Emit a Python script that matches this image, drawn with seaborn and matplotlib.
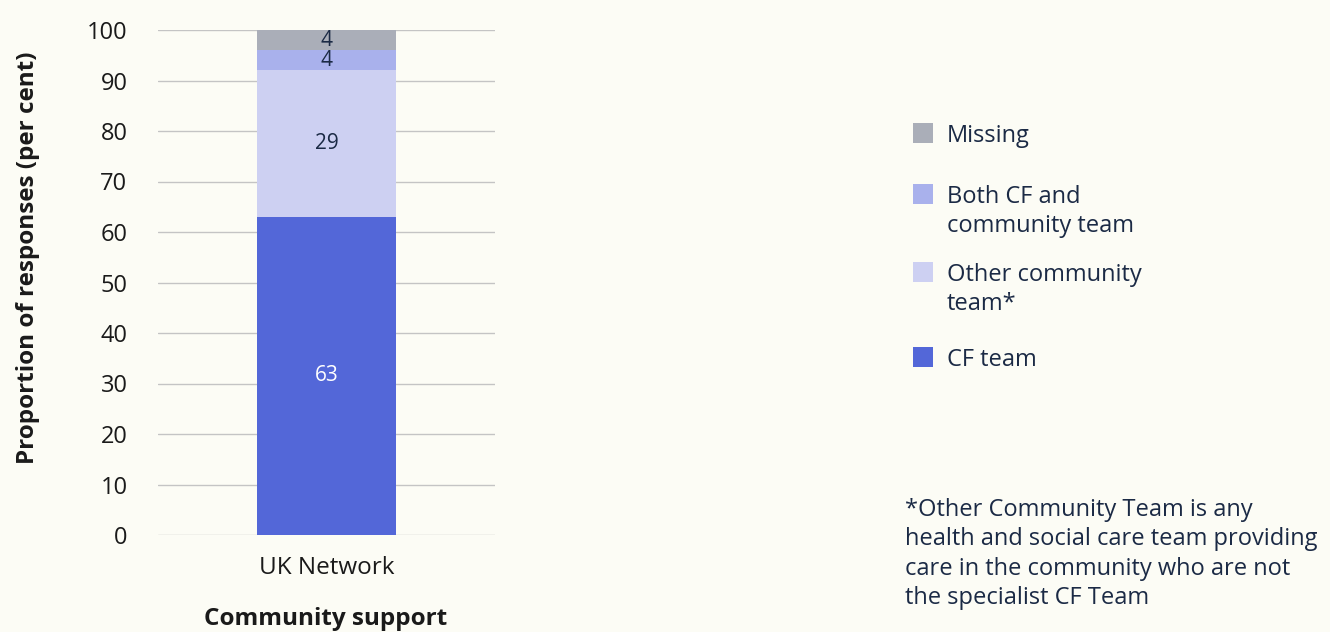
import matplotlib
matplotlib.use("Agg")
import matplotlib.pyplot as plt
from matplotlib.patches import Rectangle
import seaborn as sns
import pandas as pd

# data
group = ["UK Network"]
categories = ["CF team", "Other community team*", "Both CF and community team", "Missing"]
values = [63, 29, 4, 4]
legend_labels = ["Missing", "Both CF and\ncommunity team", "Other community\nteam*", "CF team"]
colors = {"CF team": "#5367d8", "Other community team*": "#cdd0f2",
          "Both CF and community team": "#a9b1ec", "Missing": "#aaaeb8"}
label_colors = ["white", "#1b2a45", "#1b2a45", "#1b2a45"]

bg = "#fcfcf5"
navy = "#1b2a45"

sns.set_theme(style="white")
plt.rcParams["font.family"] = ["Open Sans", "DejaVu Sans"]

fig = plt.figure(figsize=(13.3, 6.32), dpi=100, facecolor=bg)
ax = fig.add_axes([158 / 1330, 1 - 535 / 632, 337 / 1330, 505 / 632])
ax.set_facecolor(bg)

# stack by overlapping cumulative bars, tallest first
cum = pd.Series(values, index=categories).cumsum()
for cat in reversed(categories):
    df = pd.DataFrame({"group": group, "value": [cum[cat]]})
    sns.barplot(data=df, x="group", y="value", color=colors[cat], width=0.41,
                saturation=1, linewidth=0, ax=ax, zorder=3)

# value labels
bottom = 0
for cat, v, c in zip(categories, values, label_colors):
    ax.text(0, bottom + v / 2, str(v), ha="center", va="center", fontsize=15,
            color=c, zorder=4)
    bottom += v

ax.set_xlim(-0.5, 0.5)
ax.set_ylim(0, 100)
ax.set_yticks(range(0, 101, 10))
ax.yaxis.grid(True, color="#c4c4c4", linewidth=1)
ax.set_axisbelow(True)
for s in ax.spines.values():
    s.set_visible(False)
ax.tick_params(axis="y", length=0, pad=22, labelsize=17, labelcolor="#1a1a1a")
ax.tick_params(axis="x", length=0, pad=15, labelsize=17.5, labelcolor="#1a1a1a")
ax.set_xlabel("")
ax.set_ylabel("")

fig.text(326 / 1330, 1 - 619 / 632, "Community support", ha="center", va="center",
         fontsize=17.5, fontweight="bold", color="#1a1a1a")
fig.text(28 / 1330, 1 - 258 / 632, "Proportion of responses (per cent)", rotation=90,
         ha="center", va="center", fontsize=17.5, fontweight="bold", color="#1a1a1a")

# legend drawn by hand
sq_tops = [123, 184, 262, 347]
legend_colors = [colors["Missing"], colors["Both CF and community team"],
                 colors["Other community team*"], colors["CF team"]]
for top, lab, col in zip(sq_tops, legend_labels, legend_colors):
    fig.patches.append(Rectangle((913 / 1330, 1 - (top + 20) / 632), 20 / 1330, 20 / 632,
                                 transform=fig.transFigure, facecolor=col, edgecolor="none"))
    fig.text(947 / 1330, 1 - (top + 1) / 632, lab, ha="left", va="top", fontsize=17,
             color=navy, linespacing=1.3)

footnote = ("*Other Community Team is any\nhealth and social care team providing\n"
            "care in the community who are not\nthe specialist CF Team")
fig.text(905 / 1330, 1 - 498 / 632, footnote, ha="left", va="top", fontsize=17,
         color=navy, linespacing=1.3)

fig.savefig("out.png", dpi=100, facecolor=bg)
